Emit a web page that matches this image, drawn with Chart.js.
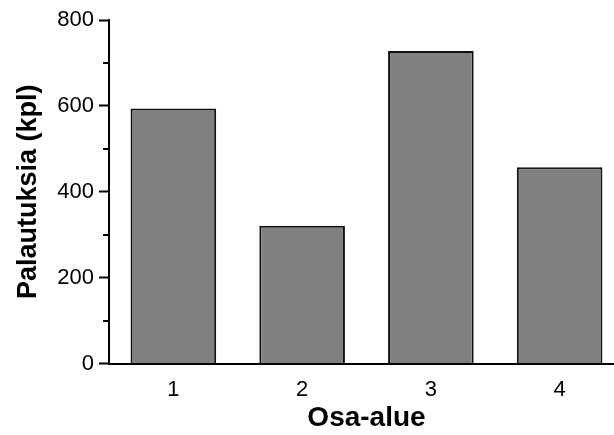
<!DOCTYPE html>
<html>
<head>
<meta charset="utf-8">
<title>Palautuksia osa-alueittain</title>
<script src="https://cdn.jsdelivr.net/npm/chart.js@4/dist/chart.umd.min.js"></script>
<style>
  html, body { margin: 0; padding: 0; background: #fff; overflow: hidden; }
  #wrap { width: 614px; height: 435px; overflow: hidden; }
</style>
</head>
<body>
<div id="wrap"><canvas id="chart" width="630" height="435"></canvas></div>
<script>
// osa-alueet ja palautusten määrät
const categories = ['1', '2', '3', '4'];
const returns = [594, 321, 728, 457];
const yTicks = [0, 200, 400, 600, 800];

const FONT = 'Arial, "Liberation Sans", sans-serif';

// pienet väliviivat y-akselille (100, 300, ...)
const minorTicks = {
    id: 'minorTicks',
    afterDraw(chart) {
        const y = chart.scales.y;
        const ctx = chart.ctx;
        ctx.save();
        ctx.strokeStyle = '#000';
        ctx.lineWidth = 2;
        y.ticks.forEach(t => {
            if (yTicks.includes(t.value)) return;
            const py = Math.round(y.getPixelForValue(t.value));
            ctx.beginPath();
            ctx.moveTo(y.right - 6, py);
            ctx.lineTo(y.right, py);
            ctx.stroke();
        });
        ctx.restore();
    }
};

new Chart(document.getElementById('chart'), {
    type: 'bar',
    data: {
        labels: categories,
        datasets: [{
            data: returns,
            backgroundColor: '#808080',
            borderColor: '#111',
            borderWidth: 2,
            borderSkipped: 'bottom',
            categoryPercentage: 0.665,
            barPercentage: 1
        }]
    },
    options: {
        responsive: false,
        animation: false,
        layout: { padding: { top: 20, right: 6, left: 0, bottom: 0 } },
        plugins: {
            legend: { display: false },
            tooltip: { enabled: false }
        },
        scales: {
            x: {
                grid: { display: false },
                border: { display: true, color: '#000', width: 2 },
                ticks: { color: '#000', padding: 5, font: { family: FONT, size: 22 } },
                title: {
                    display: true,
                    text: 'Osa-alue',
                    color: '#000',
                    padding: { top: 0, bottom: 0 },
                    font: { family: FONT, size: 28, weight: 'bold' }
                },
                afterFit: s => { s.height = 71.5; }
            },
            y: {
                min: 0,
                max: 800,
                grid: {
                    drawOnChartArea: false,
                    drawTicks: true,
                    tickLength: 10,
                    tickWidth: 2,
                    tickColor: c => yTicks.includes(c.tick.value) ? '#000' : 'rgba(0,0,0,0)'
                },
                border: { display: true, color: '#000', width: 2 },
                ticks: {
                    stepSize: 100,
                    color: '#000',
                    padding: 5,
                    font: { family: FONT, size: 22 },
                    callback: v => yTicks.includes(v) ? v : ''
                },
                title: {
                    display: true,
                    text: 'Palautuksia (kpl)',
                    color: '#000',
                    padding: { top: 12, bottom: 4 },
                    font: { family: FONT, size: 27, weight: 'bold' }
                },
                afterFit: s => { s.width = 109; }
            }
        }
    },
    plugins: [minorTicks]
});
</script>
</body>
</html>
